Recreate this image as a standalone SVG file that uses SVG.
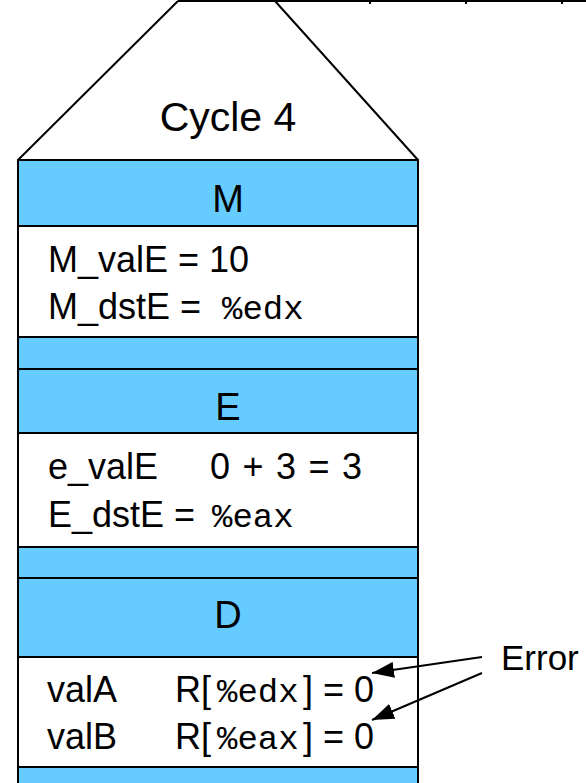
<svg xmlns="http://www.w3.org/2000/svg" width="586" height="783" viewBox="0 0 586 783">
<style>
.t{font-family:"Liberation Sans",Arial,Helvetica,sans-serif;font-size:36px;fill:#000}
.h{font-family:"Liberation Sans",Arial,Helvetica,sans-serif;font-size:38px;fill:#000;text-anchor:middle}
.m{font-family:"Liberation Mono","Courier New",monospace;font-size:34px;fill:#000}
.blue{fill:#66CCFF;stroke:#000;stroke-width:2}
.white{fill:#fff;stroke:#000;stroke-width:2}
.ln{stroke:#000;stroke-width:2;fill:none}
</style>
<defs>
<marker id="ah" markerWidth="22" markerHeight="16" refX="22" refY="8" orient="auto" markerUnits="userSpaceOnUse" viewBox="0 0 22 16">
<path d="M0,0 L22,8 L0,16 z" fill="#000"/>
</marker>
</defs>
<g id="top-row">
<line class="ln" x1="178" y1="1" x2="586" y2="1" stroke-width="3"/>
<line class="ln" x1="370" y1="0" x2="370" y2="4"/>
<line class="ln" x1="466" y1="0" x2="466" y2="4"/>
<line class="ln" x1="562" y1="0" x2="562" y2="4"/>
</g>
<g id="cycle4">
<path class="ln" d="M178,1 L18,160 M275,1 L418,160"/>
<text class="h" x="228" y="131" style="font-size:41px">Cycle 4</text>
</g>
<g id="stage-M">
<rect class="blue" x="18" y="160" width="400" height="66"/>
<text class="h" x="228" y="212">M</text>
<rect class="white" x="18" y="226" width="400" height="111"/>
<text class="t" x="48" y="272">M_valE = 10</text>
<text class="t" x="48" y="319">M_dstE =</text>
<text class="m" x="222" y="319">%edx</text>
<rect class="blue" x="18" y="337" width="400" height="32"/>
</g>
<g id="stage-E">
<rect class="blue" x="18" y="369" width="400" height="64"/>
<text class="h" x="228" y="420">E</text>
<rect class="white" x="18" y="433" width="400" height="114"/>
<text class="t" x="48" y="479">e_valE</text>
<text class="t" x="210" y="479" textLength="152" lengthAdjust="spacing">0 + 3 = 3</text>
<text class="t" x="48" y="527">E_dstE =</text>
<text class="m" x="212" y="527">%eax</text>
<rect class="blue" x="18" y="547" width="400" height="31"/>
</g>
<g id="stage-D">
<rect class="blue" x="18" y="578" width="400" height="79"/>
<text class="h" x="228" y="628">D</text>
<rect class="white" x="18" y="657" width="400" height="110"/>
<text class="t" x="47" y="702">valA</text>
<text class="t" x="175" y="702">R[</text>
<text class="m" x="217" y="702">%edx</text>
<text class="t" x="303" y="702">] = 0</text>
<text class="t" x="47" y="749">valB</text>
<text class="t" x="175" y="749">R[</text>
<text class="m" x="217" y="749">%eax</text>
<text class="t" x="303" y="749">] = 0</text>
<rect class="blue" x="18" y="767" width="400" height="20"/>
</g>
<g id="error-label">
<text class="t" x="501" y="670" style="font-size:35px">Error</text>
</g>
<g id="connectors">
<line class="ln" x1="482" y1="657" x2="372" y2="673" marker-end="url(#ah)"/>
<line class="ln" x1="482" y1="673" x2="372" y2="720" marker-end="url(#ah)"/>
</g>
</svg>
